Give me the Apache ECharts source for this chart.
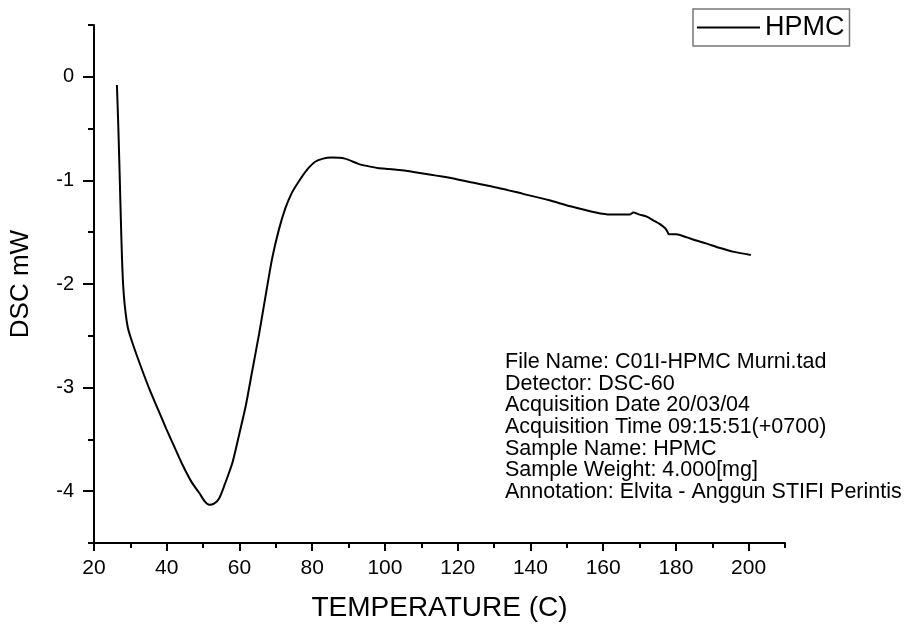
<!DOCTYPE html>
<html>
<head>
<meta charset="utf-8">
<script src="https://cdn.jsdelivr.net/npm/echarts@6/dist/echarts.min.js"></script>
<style>html,body{margin:0;padding:0;background:#fff}#c{width:907px;height:627px}</style>
</head>
<body>
<div id="c"></div>
<script>
const temps = [26.3,26.7,27.1,27.4,27.7,28.0,28.5,29.3,30.3,32.5,35.3,37.6,39.9,42.2,44.4,46.8,49.0,50.5,51.7,53.0,54.4,56.0,58.1,60.0,61.7,63.5,65.4,67.2,69.0,70.8,72.6,74.4,76.3,78.5,80.8,83.0,85.3,89.0,92.7,95.0,98.0,101,104,110,117,124,131,138,145,151,158,162,165,167.3,168.3,170,172,174,175.5,177,177.6,178.1,180.1,183,185.6,188.5,191.9,196,200.6];
const dsc = [-0.08,-0.5,-1.0,-1.4,-1.75,-2.0,-2.22,-2.42,-2.54,-2.76,-3.02,-3.21,-3.40,-3.58,-3.75,-3.91,-4.02,-4.10,-4.13,-4.12,-4.07,-3.93,-3.72,-3.44,-3.18,-2.84,-2.48,-2.11,-1.75,-1.48,-1.27,-1.12,-1.01,-0.90,-0.82,-0.79,-0.78,-0.79,-0.84,-0.86,-0.88,-0.89,-0.9,-0.93,-0.97,-1.02,-1.07,-1.13,-1.19,-1.25,-1.31,-1.33,-1.33,-1.33,-1.31,-1.33,-1.35,-1.39,-1.42,-1.46,-1.49,-1.52,-1.52,-1.55,-1.58,-1.61,-1.65,-1.69,-1.72];
const xMajorTicks = [20,40,60,80,100,120,140,160,180,200];
const xMinorTicks = [30,50,70,90,110,130,150,170,190,210];
const yMajorTicks = [-4,-3,-2,-1,0];
const yMinorTicks = [-4.5,-3.5,-2.5,-1.5,-0.5,0.5];
const annotationLines = [
  'File Name: C01I-HPMC Murni.tad',
  'Detector: DSC-60',
  'Acquisition Date 20/03/04',
  'Acquisition Time 09:15:51(+0700)',
  'Sample Name: HPMC',
  'Sample Weight: 4.000[mg]',
  'Annotation: Elvita - Anggun STIFI Perintis'
];
const seriesName = 'HPMC';

const FONT = 'Liberation Sans, Arial, sans-serif';
const chart = echarts.init(document.getElementById('c'));
const axisLine = {show:true, onZero:false, lineStyle:{color:'#000', width:2}};
chart.setOption({
  animation:false,
  backgroundColor:'#fff',
  grid:{left:94, right:122, top:25, bottom:78},
  legend:{
    left:693, top:9,
    data:[seriesName],
    icon:'rect', itemWidth:63, itemHeight:2,
    borderColor:'#777', borderWidth:1.5, padding:[5,5,5,4],
    textStyle:{fontSize:27, color:'#000', fontFamily:FONT}
  },
  xAxis:[{
    type:'value', min:20, max:210, interval:20,
    axisLine:axisLine,
    splitLine:{show:false},
    axisTick:{show:true, length:8, lineStyle:{color:'#000', width:2}, customValues:xMajorTicks},
    axisLabel:{fontSize:21, color:'#000', fontFamily:FONT, margin:15, showMaxLabel:false,
      formatter:v => xMajorTicks.indexOf(v) >= 0 ? String(v) : ''},
    name:'TEMPERATURE (C)', nameLocation:'middle', nameGap:51,
    nameTextStyle:{fontSize:28, color:'#000', fontFamily:FONT}
  },{
    type:'value', min:20, max:210, position:'bottom',
    axisLine:{show:false, onZero:false}, splitLine:{show:false}, axisLabel:{show:false},
    axisTick:{show:true, length:5, lineStyle:{color:'#000', width:2}, customValues:xMinorTicks}
  }],
  yAxis:[{
    type:'value', min:-4.5, max:0.5, interval:0.5,
    axisLine:axisLine,
    splitLine:{show:false},
    axisTick:{show:true, length:11, lineStyle:{color:'#000', width:2}, customValues:yMajorTicks},
    axisLabel:{fontSize:20, color:'#000', fontFamily:FONT, margin:20,
      formatter:v => yMajorTicks.indexOf(v) >= 0 ? String(v) : ''},
    name:'DSC mW', nameLocation:'middle', nameGap:60, nameRotate:90,
    nameTextStyle:{fontSize:26, color:'#000', fontFamily:FONT}
  },{
    type:'value', min:-4.5, max:0.5, position:'left',
    axisLine:{show:false, onZero:false}, splitLine:{show:false}, axisLabel:{show:false},
    axisTick:{show:true, length:6, lineStyle:{color:'#000', width:2}, customValues:yMinorTicks}
  }],
  series:[{
    name:seriesName, type:'line',
    xAxisIndex:0, yAxisIndex:0,
    data:temps.map((t,i)=>[t, dsc[i]]),
    showSymbol:false, smooth:0.25,
    lineStyle:{color:'#000', width:2},
    itemStyle:{color:'#000'}
  }],
  graphic:[{
    type:'text', left:505, top:351,
    style:{text:annotationLines.join('\n'), fontSize:21.5, lineHeight:21.7, fill:'#000', fontFamily:FONT}
  }]
});
</script>
</body>
</html>
